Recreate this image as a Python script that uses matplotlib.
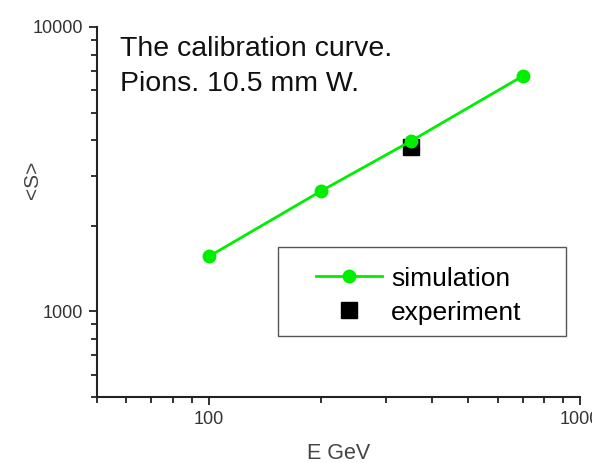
import matplotlib
matplotlib.use("Agg")
import matplotlib.pyplot as plt
from matplotlib.patches import Rectangle
from matplotlib.ticker import LogLocator, NullFormatter, FixedLocator, FixedFormatter

plt.rcParams['font.family'] = ['Liberation Sans', 'DejaVu Sans']

# simulation points (E in GeV, <S>)
sim_E = [100, 200, 350, 700]
sim_S = [1560, 2645, 3970, 6720]

# experimental point
exp_E = [350]
exp_S = [3780]

fig = plt.figure(figsize=(5.92, 4.63), dpi=100)
ax = fig.add_axes([0.164, 0.1425, 0.816, 0.7992])

ax.plot(sim_E, sim_S, color='#00ee00', lw=2, marker='o', ms=9, label='simulation', zorder=3)
ax.plot(exp_E, exp_S, ls='none', marker='s', color='black', ms=11, label='experiment', zorder=2)

ax.set_xscale('log')
ax.set_yscale('log')
ax.set_xlim(50, 1000)
ax.set_ylim(500, 10000)

ax.xaxis.set_major_locator(FixedLocator([100, 1000]))
ax.xaxis.set_major_formatter(FixedFormatter(['100', '1000']))
ax.xaxis.set_minor_locator(LogLocator(base=10, subs=range(2, 10)))
ax.xaxis.set_minor_formatter(NullFormatter())
ax.yaxis.set_major_locator(FixedLocator([1000, 10000]))
ax.yaxis.set_major_formatter(FixedFormatter(['1000', '10000']))
ax.yaxis.set_minor_locator(LogLocator(base=10, subs=range(2, 10)))
ax.yaxis.set_minor_formatter(NullFormatter())

for s in ['top', 'right']:
    ax.spines[s].set_visible(False)
for s in ['left', 'bottom']:
    ax.spines[s].set_linewidth(1.5)
    ax.spines[s].set_color('#222222')

ax.tick_params(which='major', direction='out', length=6, width=1.3, labelsize=13,
               labelcolor='#333333', color='#222222', pad=4)
ax.tick_params(which='minor', direction='out', length=4, width=1.3, color='#222222')

ax.set_xlabel('E GeV', fontsize=15.5, color='#444444', labelpad=11)
ax.set_ylabel('<S>', fontsize=15, color='#444444')
ax.yaxis.set_label_coords(-0.114, 0.586)

ax.text(0.047, 0.975, 'The calibration curve.\nPions. 10.5 mm W.', transform=ax.transAxes,
        fontsize=20.5, va='top', ha='left', color='#111111', linespacing=1.42)

# legend box drawn separately so the entries can sit inset like the original
ax.add_patch(Rectangle((0.375, 0.165), 0.596, 0.24, transform=ax.transAxes,
                       facecolor='white', edgecolor='#555555', lw=1.0, zorder=4))
leg = ax.legend(loc='center left', bbox_to_anchor=(0.453, 0.274),
                fontsize=19, frameon=False, borderaxespad=0, borderpad=0,
                handlelength=2.5, handletextpad=0.35, labelspacing=0.38)
leg.set_zorder(5)

fig.savefig('out.png', dpi=100)
